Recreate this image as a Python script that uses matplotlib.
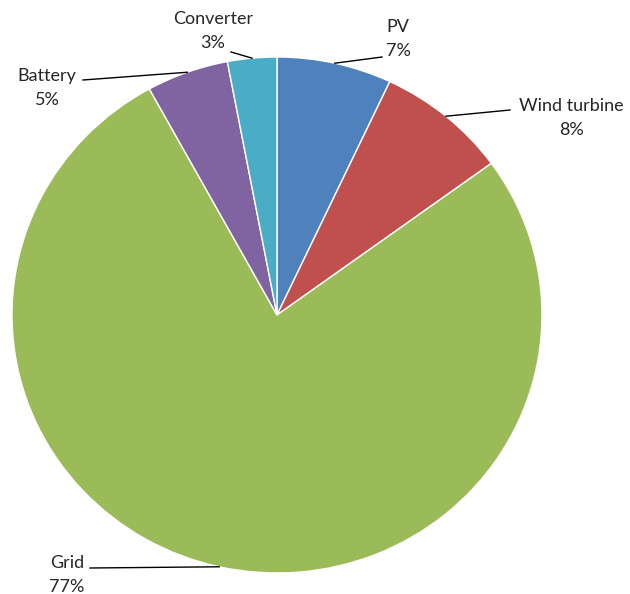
import numpy as np
import matplotlib
matplotlib.use("Agg")
import matplotlib.pyplot as plt

# Cost share data
labels = ["PV", "Wind turbine", "Grid", "Battery", "Converter"]
shares = [7, 8, 77, 5, 3]
colors = ["#4F81BD", "#C0504D", "#9BBB59", "#8064A2", "#4BACC6"]

# label text centres and leader-line start points (pixels, from top-left)
label_pos = [(398, 39), (571, 118), (67, 575), (47, 88), (213, 31)]
line_start = [(382, 57), (510, 110), (90, 568), (83, 80), (231, 52)]

W, H = 630, 594
cx, cy, rx, ry = 277, 315, 265, 258

plt.rcParams["font.family"] = ["Lato", "DejaVu Sans"]
fig = plt.figure(figsize=(W / 100, H / 100), dpi=100)
ax = fig.add_axes([(cx - rx) / W, (H - cy - ry) / H, 2 * rx / W, 2 * ry / H])

wedges, _ = ax.pie(
    shares,
    colors=colors,
    startangle=90,
    counterclock=False,
    wedgeprops=dict(edgecolor="white", linewidth=1),
)
ax.set_aspect("auto")
ax.set_xlim(-1, 1)
ax.set_ylim(-1, 1)
ax.axis("off")


def px_to_data(px, py):
    return (px - cx) / rx, (cy - py) / ry


for w, lab, val, (tx, ty), (lx, ly) in zip(wedges, labels, shares, label_pos, line_start):
    mid = np.deg2rad((w.theta1 + w.theta2) / 2)
    ex, ey = np.cos(mid), np.sin(mid)
    sx, sy = px_to_data(lx, ly)
    ax.plot([sx, ex], [sy, ey], color="black", lw=1, clip_on=False)
    fig.text(tx / W, 1 - ty / H, f"{lab}\n{val}%", ha="center", va="center",
             fontsize=13, color="#262626", linespacing=1.6)

fig.savefig("out.png", dpi=100, facecolor="white")
